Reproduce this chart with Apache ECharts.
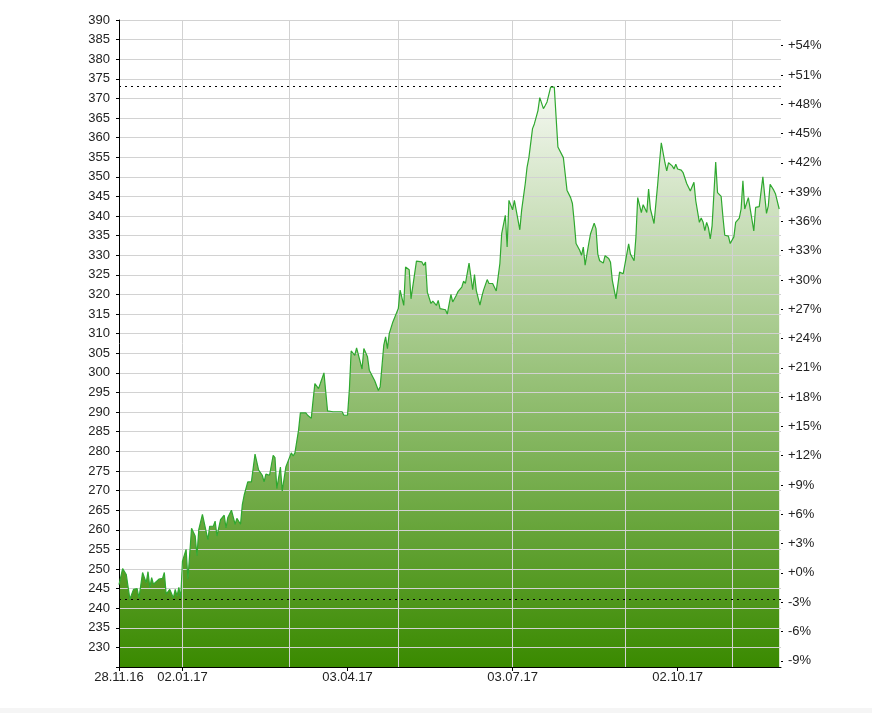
<!DOCTYPE html>
<html>
<head>
<meta charset="utf-8">
<script src="https://cdn.jsdelivr.net/npm/echarts@6/dist/echarts.min.js"></script>
<style>
    html, body { margin: 0; padding: 0; background: #fff; }
    #chart { width: 872px; height: 713px; }
</style>
</head>
<body>
<div id="chart"></div>
<script>
// Kursverlauf 28.11.16 - 27.11.17
const dates = [
    '2016-11-28','2016-11-30','2016-12-02','2016-12-04','2016-12-06','2016-12-08','2016-12-09','2016-12-11','2016-12-13','2016-12-14',
    '2016-12-15','2016-12-16','2016-12-17','2016-12-20','2016-12-22','2016-12-23','2016-12-24','2016-12-26','2016-12-28','2016-12-29',
    '2016-12-30','2016-12-31','2017-01-01','2017-01-02','2017-01-04','2017-01-05','2017-01-07','2017-01-09','2017-01-10','2017-01-11',
    '2017-01-13','2017-01-14','2017-01-16','2017-01-17','2017-01-19','2017-01-20','2017-01-21','2017-01-23','2017-01-25','2017-01-26',
    '2017-01-27','2017-01-29','2017-01-30','2017-01-31','2017-02-01','2017-02-03','2017-02-04','2017-02-05','2017-02-07','2017-02-09',
    '2017-02-11','2017-02-13','2017-02-15','2017-02-16','2017-02-17','2017-02-18','2017-02-19','2017-02-21','2017-02-22','2017-02-23',
    '2017-02-25','2017-02-26','2017-02-28','2017-03-01','2017-03-03','2017-03-04','2017-03-05','2017-03-07','2017-03-08','2017-03-11',
    '2017-03-12','2017-03-14','2017-03-15','2017-03-16','2017-03-18','2017-03-19','2017-03-21','2017-03-22','2017-03-23','2017-03-26',
    '2017-03-29','2017-03-31','2017-04-01','2017-04-03','2017-04-04','2017-04-05','2017-04-07','2017-04-08','2017-04-09','2017-04-11',
    '2017-04-12','2017-04-14','2017-04-15','2017-04-18','2017-04-20','2017-04-21','2017-04-23','2017-04-24','2017-04-25','2017-04-26',
    '2017-04-28','2017-04-29','2017-05-01','2017-05-02','2017-05-04','2017-05-05','2017-05-07','2017-05-08','2017-05-09','2017-05-11',
    '2017-05-12','2017-05-14','2017-05-15','2017-05-16','2017-05-17','2017-05-19','2017-05-20','2017-05-22','2017-05-23','2017-05-24',
    '2017-05-25','2017-05-27','2017-05-28','2017-05-30','2017-05-31','2017-06-02','2017-06-03','2017-06-05','2017-06-06','2017-06-07',
    '2017-06-09','2017-06-11','2017-06-12','2017-06-13','2017-06-15','2017-06-16','2017-06-17','2017-06-19','2017-06-20','2017-06-22',
    '2017-06-23','2017-06-24','2017-06-26','2017-06-27','2017-06-29','2017-06-30','2017-07-01','2017-07-03','2017-07-04','2017-07-05',
    '2017-07-07','2017-07-08','2017-07-10','2017-07-11','2017-07-12','2017-07-14','2017-07-15','2017-07-17','2017-07-18','2017-07-20',
    '2017-07-21','2017-07-22','2017-07-24','2017-07-25','2017-07-26','2017-07-27','2017-07-28','2017-07-29','2017-07-31','2017-08-01',
    '2017-08-02','2017-08-04','2017-08-05','2017-08-06','2017-08-07','2017-08-09','2017-08-10','2017-08-11','2017-08-12','2017-08-14',
    '2017-08-15','2017-08-17','2017-08-18','2017-08-19','2017-08-20','2017-08-22','2017-08-23','2017-08-25','2017-08-26','2017-08-27',
    '2017-08-29','2017-08-30','2017-08-31','2017-09-02','2017-09-03','2017-09-05','2017-09-06','2017-09-08','2017-09-09','2017-09-10',
    '2017-09-12','2017-09-13','2017-09-15','2017-09-16','2017-09-17','2017-09-19','2017-09-21','2017-09-22','2017-09-23','2017-09-25',
    '2017-09-26','2017-09-27','2017-09-29','2017-09-30','2017-10-01','2017-10-02','2017-10-04','2017-10-05','2017-10-07','2017-10-08',
    '2017-10-09','2017-10-11','2017-10-12','2017-10-14','2017-10-15','2017-10-16','2017-10-17','2017-10-18','2017-10-19','2017-10-20',
    '2017-10-21','2017-10-23','2017-10-24','2017-10-26','2017-10-27','2017-10-28','2017-10-30','2017-10-31','2017-11-02','2017-11-03',
    '2017-11-05','2017-11-06','2017-11-07','2017-11-08','2017-11-10','2017-11-11','2017-11-13','2017-11-14','2017-11-16','2017-11-17',
    '2017-11-18','2017-11-20','2017-11-21','2017-11-22','2017-11-24','2017-11-25','2017-11-27'
];
const prices = [
    246.0,250.1,248.6,242.3,244.8,245.0,242.6,249.1,246.5,249.3,
    245.3,247.8,246.1,247.4,247.6,249.1,243.6,244.8,242.6,244.8,
    243.1,245.3,242.6,252.0,255.0,247.4,260.4,258.4,253.4,260.1,
    263.9,264.1,257.5,260.9,260.9,262.2,258.4,262.6,263.7,260.5,
    263.1,265.0,265.0,261.4,262.9,261.4,266.4,268.8,272.2,272.2,
    279.3,275.2,273.9,272.2,274.2,273.9,273.9,279.0,278.4,270.5,
    276.0,269.9,276.0,276.2,279.6,278.8,279.6,285.4,289.8,289.8,
    289.2,288.4,293.0,297.3,296.0,297.3,300.0,295.1,290.3,290.1,
    290.1,290.1,289.2,289.2,295.6,305.6,304.5,306.4,305.9,301.0,
    306.2,304.1,300.7,298.0,295.5,296.5,307.1,309.2,306.2,310.0,
    313.0,313.4,316.4,321.1,317.2,327.0,326.3,318.9,318.5,328.5,
    328.4,328.3,327.4,328.3,320.6,317.7,318.3,317.2,318.5,316.4,
    316.4,316.1,315.0,320.0,318.1,319.8,320.8,321.9,323.4,322.8,
    328.0,321.2,325.1,321.0,317.3,319.4,321.1,323.8,322.8,322.8,
    322.4,320.9,327.9,335.5,340.2,332.1,344.0,341.6,344.0,344.0,
    336.5,341.5,348.3,352.5,354.9,362.3,363.5,366.9,370.2,367.4,
    368.2,369.1,372.9,373.2,372.9,365.2,357.6,358.0,354.9,350.8,
    346.6,344.7,343.2,338.5,333.0,331.3,330.0,332.1,327.5,333.0,
    335.5,338.2,336.8,330.3,328.6,328.0,329.9,329.2,328.2,323.6,
    318.9,322.3,325.7,325.3,327.8,332.9,330.3,328.6,334.6,344.7,
    340.9,342.9,340.9,346.9,341.8,338.1,348.1,353.6,358.7,353.6,
    351.5,353.6,352.8,352.0,353.2,352.0,351.7,351.1,348.3,348.8,
    346.4,348.6,343.9,338.4,339.5,338.5,336.3,338.4,337.0,334.2,
    337.5,353.8,346.0,345.0,339.7,335.1,334.9,333.0,334.7,338.4,
    339.5,341.8,349.0,341.8,344.7,344.7,336.2,342.2,342.4,342.2,
    350.0,340.7,342.6,348.1,346.6,345.6,341.8
];
const basePrice = 249;
const percentTicks = [-9, -6, -3, 0, 3, 6, 9, 12, 15, 18, 21, 24, 27, 30, 33, 36, 39, 42, 45, 48, 51, 54];
const labelDates = ['2016-11-28', '2017-01-02', '2017-04-03', '2017-07-03', '2017-10-02'];
const gridDates = ['2017-01-02', '2017-03-02', '2017-05-01', '2017-07-03', '2017-09-03', '2017-11-01'];

const toTime = (s) => {
    const p = s.split('-');
    return new Date(+p[0], +p[1] - 1, +p[2]).getTime();
};
const pad = (n) => (n < 10 ? '0' : '') + n;
const fmtDate = (v) => {
    const d = new Date(v);
    return pad(d.getDate()) + '.' + pad(d.getMonth() + 1) + '.' + String(d.getFullYear()).slice(2);
};

const seriesData = dates.map((d, i) => [toTime(d), prices[i]]);
const xMin = toTime('2016-11-28');
const xMax = toTime('2017-11-28');
const font = 'Liberation Sans, Arial, sans-serif';
const gridColor = '#d2d2d2';

const mChart = echarts.init(document.getElementById('chart'));
const options = {
    backgroundColor: '#fff',
    animation: false,
    grid: {
        left: 119,
        right: 91,
        top: 20,
        bottom: 46,
        outerBoundsMode: 'none'
    },
    graphic: [{
        type: 'rect',
        left: 0,
        bottom: 0,
        shape: { width: 872, height: 5 },
        style: { fill: '#f5f5f5' },
        silent: true
    }],
    xAxis: [
        {
            // Zeitachse als Zahlenachse (ms), Beschriftung selbst formatiert
            type: 'value',
            min: xMin,
            max: xMax,
            position: 'bottom',
            z: 5,
            axisLine: { show: true, lineStyle: { color: '#000', width: 1 } },
            axisTick: {
                show: true,
                length: 4,
                customValues: labelDates.map(toTime),
                lineStyle: { color: '#000' }
            },
            axisLabel: {
                customValues: labelDates.map(toTime),
                formatter: (v) => fmtDate(v),
                color: '#222',
                fontSize: 13,
                fontFamily: font,
                margin: 4,
                showMinLabel: true,
                hideOverlap: false
            },
            splitLine: { show: false }
        },
        {
            type: 'value',
            min: xMin,
            max: xMax,
            position: 'bottom',
            z: 4,
            axisLine: { show: false },
            axisTick: { show: false, customValues: gridDates.map(toTime) },
            axisLabel: { show: false },
            splitLine: { show: true, lineStyle: { color: gridColor, width: 1 } }
        }
    ],
    yAxis: [
        {
            type: 'value',
            min: 225,
            max: 390,
            interval: 5,
            position: 'left',
            z: 5,
            axisLine: { show: true, lineStyle: { color: '#000', width: 1 } },
            axisTick: { show: true, length: 3, lineStyle: { color: '#000' } },
            axisLabel: {
                color: '#222',
                fontSize: 13,
                fontFamily: font,
                margin: 9,
                formatter: (v) => (v === 225 ? '' : String(v))
            },
            splitLine: { show: true, lineStyle: { color: gridColor, width: 1 } }
        },
        {
            type: 'value',
            min: 225,
            max: 390,
            position: 'right',
            z: 5,
            axisLine: { show: false },
            axisTick: {
                show: true,
                length: 2,
                customValues: percentTicks.map(p => basePrice * (1 + p / 100)),
                lineStyle: { color: '#000' }
            },
            axisLabel: {
                customValues: percentTicks.map(p => basePrice * (1 + p / 100)),
                color: '#222',
                fontSize: 13,
                fontFamily: font,
                margin: 7,
                formatter: (v) => {
                    const p = Math.round((v / basePrice - 1) * 100);
                    return (p >= 0 ? '+' : '') + p + '%';
                }
            },
            splitLine: { show: false }
        }
    ],
    series: [
        {
            // Fläche unter dem Kurs
            type: 'line',
            data: seriesData,
            showSymbol: false,
            silent: true,
            z: 1,
            lineStyle: { width: 0 },
            areaStyle: {
                origin: 'start',
                opacity: 1,
                color: new echarts.graphic.LinearGradient(0, 0, 0, 1, [
                    { offset: 0, color: '#f6f9f3' },
                    { offset: 1, color: '#3a8a00' }
                ])
            }
        },
        {
            type: 'line',
            data: seriesData,
            showSymbol: false,
            z: 10,
            lineStyle: { color: '#2fa82f', width: 1.2 },
            markLine: {
                silent: true,
                symbol: 'none',
                label: { show: false },
                lineStyle: { color: '#000', type: [2, 4], width: 1 },
                data: [{ type: 'max' }, { type: 'min' }]
            }
        }
    ]
};
mChart.setOption(options);
</script>
</body>
</html>
